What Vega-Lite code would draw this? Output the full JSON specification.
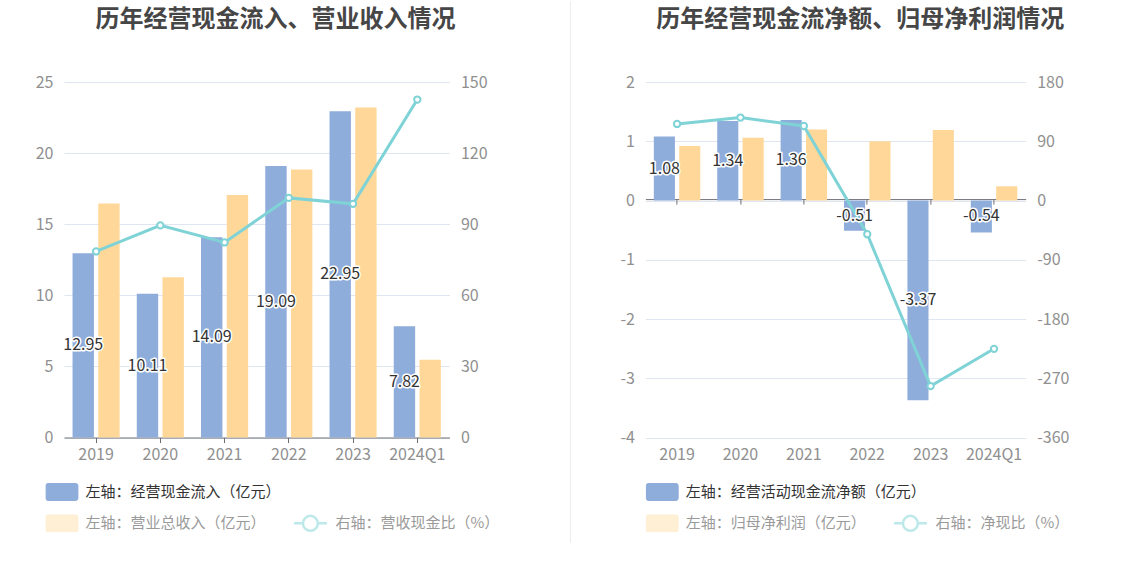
{
  "$schema": "https://vega.github.io/schema/vega-lite/v6.json",
  "background": "white",
  "padding": {"left": 35, "top": 0, "right": 0, "bottom": 0},
  "bounds": "flush",
  "spacing": 74.2,
  "datasets": {
    "cash_in": [
      {"year": "2019", "inflow": 12.95, "revenue": 16.46, "ratio": 78.5},
      {"year": "2020", "inflow": 10.11, "revenue": 11.27, "ratio": 89.5},
      {"year": "2021", "inflow": 14.09, "revenue": 17.06, "ratio": 82.3},
      {"year": "2022", "inflow": 19.09, "revenue": 18.84, "ratio": 101.1},
      {"year": "2023", "inflow": 22.95, "revenue": 23.2, "ratio": 98.6},
      {"year": "2024Q1", "inflow": 7.82, "revenue": 5.46, "ratio": 142.6}
    ],
    "net_cash": [
      {"year": "2019", "netcash": 1.08, "netprofit": 0.92, "ratio": 116.3},
      {"year": "2020", "netcash": 1.34, "netprofit": 1.06, "ratio": 126.0},
      {"year": "2021", "netcash": 1.36, "netprofit": 1.2, "ratio": 113.2},
      {"year": "2022", "netcash": -0.51, "netprofit": 1.0, "ratio": -51.2},
      {"year": "2023", "netcash": -3.37, "netprofit": 1.19, "ratio": -281.9},
      {"year": "2024Q1", "netcash": -0.54, "netprofit": 0.24, "ratio": -225.3}
    ]
  },
  "hconcat": [
    {
      "width": 385.4,
      "height": 355.5,
      "data": {"name": "cash_in"},
      "title": {"text": "历年经营现金流入、营业收入情况", "dx": 18.7, "offset": 42},
      "encoding": {
        "x": {
          "field": "year", "type": "nominal", "sort": null,
          "scale": {"paddingInner": 0.267, "paddingOuter": 0.133},
          "axis": {"title": null, "labelAngle": 0, "domain": true, "ticks": true, "tickSize": 5, "labelPadding": 4, "bandPosition": 0.5, "grid": false}
        }
      },
      "layer": [
        {
          "transform": [{"fold": ["inflow", "revenue"], "as": ["key", "value"]}],
          "mark": {"type": "bar"},
          "encoding": {
            "xOffset": {"field": "key", "type": "nominal", "scale": {"domain": ["inflow", "revenue"], "paddingInner": 0.168}},
            "y": {
              "field": "value", "type": "quantitative",
              "scale": {"domain": [0, 25], "nice": false},
              "axis": {"title": null, "orient": "left", "values": [0, 5, 10, 15, 20, 25], "grid": true, "domain": false, "ticks": false, "labelPadding": 11}
            },
            "color": {
              "field": "key", "type": "nominal",
              "scale": {"domain": ["inflow", "revenue"], "range": ["#8FADDB", "#FFD899"]},
              "legend": {
                "legendX": -18.6, "legendY": 401, "direction": "vertical",
                "symbolType": "M-0.82,-0.55L0.82,-0.55A0.18,0.18,0,0,1,1,-0.37L1,0.37A0.18,0.18,0,0,1,0.82,0.55L-0.82,0.55A0.18,0.18,0,0,1,-1,0.37L-1,-0.37A0.18,0.18,0,0,1,-0.82,-0.55Z",
                "symbolSize": 1089, "symbolStrokeWidth": 0, "clipHeight": 18, "rowPadding": 13.3, "labelOffset": 7,
                "labelExpr": "datum.value == 'inflow' ? '左轴：经营现金流入（亿元）' : '左轴：营业总收入（亿元）'",
                "labelColor": {"expr": "datum.value == 'inflow' ? '#333333' : '#9a9a9a'"},
                "symbolOpacity": {"expr": "datum.value == 'inflow' ? 1 : 0.42"}
              }
            }
          }
        },
        {
          "layer": [
            {
              "mark": {"type": "line", "strokeWidth": 3},
              "encoding": {
                "y": {
                  "field": "ratio", "type": "quantitative",
                  "scale": {"domain": [0, 150], "nice": false},
                  "axis": {"title": null, "orient": "right", "values": [0, 30, 60, 90, 120, 150], "grid": false, "domain": false, "ticks": false, "labelPadding": 11}
                },
                "stroke": {
                  "datum": "右轴：营收现金比（%）", "type": "nominal",
                  "scale": {"range": ["#7FD3D6"]},
                  "legend": {
                    "legendX": 228.4, "legendY": 432.3,
                    "symbolType": "M-1,0L-0.45,0M0.45,0L1,0M0.45,0A0.45,0.45,0,1,1,-0.45,0A0.45,0.45,0,1,1,0.45,0",
                    "symbolSize": 1089, "symbolStrokeWidth": 2.5, "symbolOpacity": 0.5, "symbolFillColor": "#ffffff",
                    "clipHeight": 18, "labelOffset": 7, "labelColor": "#9a9a9a"
                  }
                }
              }
            },
            {
              "mark": {"type": "point", "filled": true, "fill": "white", "stroke": "#7FD3D6", "strokeWidth": 2, "size": 40, "opacity": 1},
              "encoding": {
                "y": {"field": "ratio", "type": "quantitative"}
              }
            }
          ]
        },
        {
          "transform": [
            {"fold": ["inflow"], "as": ["key", "value"]},
            {"calculate": "datum.value / 2", "as": "mid"},
            {"calculate": "replace(format(datum.value, '.2f'), '\u2212', '-')", "as": "label"}
          ],
          "encoding": {
            "xOffset": {"field": "key", "type": "nominal", "scale": {"domain": ["inflow", "revenue"], "paddingInner": 0.168}},
            "y": {"field": "mid", "type": "quantitative", "scale": {"domain": [0, 25], "nice": false}, "axis": null},
            "text": {"field": "label", "type": "nominal"}
          },
          "layer": [
            {"mark": {"type": "text", "fontSize": 16, "fill": "white", "stroke": "white", "strokeWidth": 3, "strokeJoin": "round"}},
            {"mark": {"type": "text", "fontSize": 16, "fill": "#333333"}}
          ]
        }
      ],
      "resolve": {"scale": {"y": "independent"}}
    },
    {
      "width": 46.3,
      "height": 355.5,
      "data": {"values": [{"part": "divider"}]},
      "mark": {"type": "rule", "color": "#ececec", "strokeWidth": 1},
      "encoding": {
        "x": {"value": "width"},
        "y": {"datum": 1.227, "type": "quantitative", "scale": {"domain": [0, 1], "nice": false, "zero": false}, "axis": null},
        "y2": {"datum": -0.2968}
      }
    },
    {
      "width": 380.3,
      "height": 355.5,
      "data": {"name": "net_cash"},
      "title": {"text": "历年经营现金流净额、归母净利润情况", "dx": 24.8, "offset": 42},
      "encoding": {
        "x": {
          "field": "year", "type": "nominal", "sort": null,
          "scale": {"paddingInner": 0.267, "paddingOuter": 0.133}
        }
      },
      "layer": [
        {
          "transform": [{"fold": ["netcash", "netprofit"], "as": ["key", "value"]}],
          "mark": {"type": "bar"},
          "encoding": {
            "x": {
              "field": "year", "type": "nominal", "sort": null,
              "axis": {"title": null, "labelAngle": 0, "domain": false, "ticks": false, "labelPadding": 9, "grid": false}
            },
            "xOffset": {"field": "key", "type": "nominal", "scale": {"domain": ["netcash", "netprofit"], "paddingInner": 0.168}},
            "y": {
              "field": "value", "type": "quantitative",
              "scale": {"domain": [-4, 2], "nice": false},
              "axis": {"title": null, "orient": "left", "values": [-4, -3, -2, -1, 0, 1, 2], "grid": true, "domain": false, "ticks": false, "labelPadding": 11, "labelExpr": "replace(datum.label, '\u2212', '-')"}
            },
            "color": {
              "field": "key", "type": "nominal",
              "scale": {"domain": ["netcash", "netprofit"], "range": ["#8FADDB", "#FFD899"]},
              "legend": {
                "legendX": 0.3, "legendY": 401, "direction": "vertical",
                "symbolType": "M-0.82,-0.55L0.82,-0.55A0.18,0.18,0,0,1,1,-0.37L1,0.37A0.18,0.18,0,0,1,0.82,0.55L-0.82,0.55A0.18,0.18,0,0,1,-1,0.37L-1,-0.37A0.18,0.18,0,0,1,-0.82,-0.55Z",
                "symbolSize": 1089, "symbolStrokeWidth": 0, "clipHeight": 18, "rowPadding": 13.3, "labelOffset": 7,
                "labelExpr": "datum.value == 'netcash' ? '左轴：经营活动现金流净额（亿元）' : '左轴：归母净利润（亿元）'",
                "labelColor": {"expr": "datum.value == 'netcash' ? '#333333' : '#9a9a9a'"},
                "symbolOpacity": {"expr": "datum.value == 'netcash' ? 1 : 0.42"}
              }
            }
          }
        },
        {
          "encoding": {
            "x": {
              "field": "year", "type": "nominal", "sort": null,
              "axis": {"title": null, "orient": "bottom", "offset": -238.4, "labels": false, "domain": true, "ticks": true, "tickSize": 5, "bandPosition": 0.5, "grid": false}
            }
          },
          "layer": [
            {
              "mark": {"type": "line", "strokeWidth": 3},
              "encoding": {
                "y": {
                  "field": "ratio", "type": "quantitative",
                  "scale": {"domain": [-360, 180], "nice": false},
                  "axis": {"title": null, "orient": "right", "values": [-360, -270, -180, -90, 0, 90, 180], "grid": false, "domain": false, "ticks": false, "labelPadding": 11, "labelExpr": "replace(datum.label, '\u2212', '-')"}
                },
                "stroke": {
                  "datum": "右轴：净现比（%）", "type": "nominal",
                  "scale": {"range": ["#7FD3D6"]},
                  "legend": {
                    "legendX": 247, "legendY": 432.3,
                    "symbolType": "M-1,0L-0.45,0M0.45,0L1,0M0.45,0A0.45,0.45,0,1,1,-0.45,0A0.45,0.45,0,1,1,0.45,0",
                    "symbolSize": 1089, "symbolStrokeWidth": 2.5, "symbolOpacity": 0.5, "symbolFillColor": "#ffffff",
                    "clipHeight": 18, "labelOffset": 7, "labelColor": "#9a9a9a"
                  }
                }
              }
            },
            {
              "mark": {"type": "point", "filled": true, "fill": "white", "stroke": "#7FD3D6", "strokeWidth": 2, "size": 40, "opacity": 1},
              "encoding": {
                "y": {"field": "ratio", "type": "quantitative"}
              }
            }
          ]
        },
        {
          "transform": [
            {"fold": ["netcash"], "as": ["key", "value"]},
            {"calculate": "datum.value / 2", "as": "mid"},
            {"calculate": "replace(format(datum.value, '.2f'), '\u2212', '-')", "as": "label"}
          ],
          "encoding": {
            "x": {"field": "year", "type": "nominal", "sort": null, "axis": null},
            "xOffset": {"field": "key", "type": "nominal", "scale": {"domain": ["netcash", "netprofit"], "paddingInner": 0.168}},
            "y": {"field": "mid", "type": "quantitative", "scale": {"domain": [-4, 2], "nice": false}, "axis": null},
            "text": {"field": "label", "type": "nominal"}
          },
          "layer": [
            {"mark": {"type": "text", "fontSize": 16, "fill": "white", "stroke": "white", "strokeWidth": 3, "strokeJoin": "round"}},
            {"mark": {"type": "text", "fontSize": 16, "fill": "#333333"}}
          ]
        }
      ],
      "resolve": {"scale": {"y": "independent"}, "axis": {"x": "independent"}}
    }
  ],
  "resolve": {
    "scale": {"x": "independent", "y": "independent", "xOffset": "independent", "color": "independent", "stroke": "independent"},
    "legend": {"color": "independent", "stroke": "independent"}
  },
  "config": {
    "font": "Noto Sans CJK SC",
    "view": {"stroke": null},
    "title": {"fontSize": 24, "fontWeight": "bold", "color": "#464646", "anchor": "middle", "baseline": "bottom", "frame": "group"},
    "axis": {
      "labelFont": "Noto Sans CJK SC", "labelFontSize": 16, "labelColor": "#909090",
      "gridColor": "#E0E6F1", "gridWidth": 1, "domainColor": "#6E7079", "tickColor": "#6E7079"
    },
    "legend": {
      "orient": "none", "title": null, "padding": 0, "labelFont": "Noto Sans CJK SC", "labelFontSize": 15, "labelLimit": 400
    }
  }
}
